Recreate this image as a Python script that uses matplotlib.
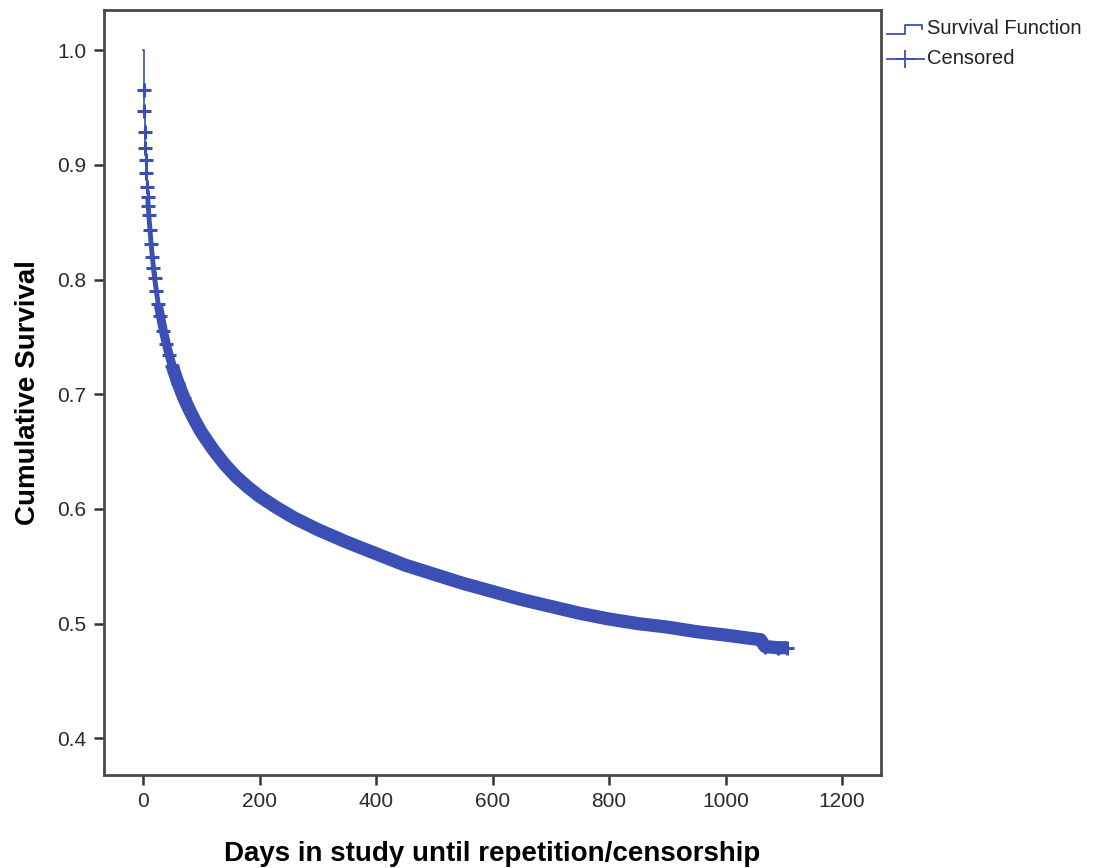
import numpy as np
import matplotlib
matplotlib.use('Agg')
import matplotlib.pyplot as plt
from matplotlib.lines import Line2D

# Kaplan-Meier curve, values
days = [0, 1, 2, 3, 4, 5, 6, 7, 8, 9, 10, 12, 14, 16, 18, 20, 23, 26, 30, 35,
        40, 45, 50, 60, 70, 80, 90, 100, 120, 140, 160, 180, 200, 230, 260,
        300, 350, 400, 450, 500, 550, 600, 650, 700, 750, 800, 850, 900,
        950, 1000, 1030, 1060, 1068, 1090, 1105]
survival = [1.0, 0.965, 0.947, 0.929, 0.915, 0.904, 0.893, 0.881, 0.872,
            0.864, 0.856, 0.843, 0.831, 0.820, 0.810, 0.801, 0.790, 0.779,
            0.768, 0.755, 0.744, 0.734, 0.725, 0.710, 0.697, 0.686, 0.676,
            0.667, 0.652, 0.639, 0.628, 0.619, 0.611, 0.601, 0.592, 0.582,
            0.571, 0.561, 0.551, 0.543, 0.535, 0.528, 0.521, 0.515, 0.509,
            0.504, 0.500, 0.497, 0.493, 0.490, 0.488, 0.486, 0.480, 0.479,
            0.479]

x_ticks = [0, 200, 400, 600, 800, 1000, 1200]
y_ticks = [0.4, 0.5, 0.6, 0.7, 0.8, 0.9, 1.0]

blue = '#3B4FB4'
frame = '#4a4a4a'

plt.rcParams['font.family'] = ['Liberation Sans', 'DejaVu Sans']

d = np.array(days)
s = np.array(survival)
early = d <= 40
marks = ((d >= 1) & (d <= 70)) | (d >= 1060)

fig = plt.figure(figsize=(10.99, 8.68), dpi=100)
ax = fig.add_axes([0.0946, 0.1071, 0.7071, 0.8814])

# the censor marks crowd into a solid band that thickens with time
for lo, hi, w in [(8, 30, 3.5), (26, 60, 6.5), (50, 1105, 9.5)]:
    seg = (d >= lo) & (d <= hi)
    ax.plot(d[seg], s[seg], color=blue, lw=w,
            solid_capstyle='butt', solid_joinstyle='round')
ax.step(d[early], s[early], where='post', color=blue, lw=1.2)
ax.plot(d[marks], s[marks], ls='none', marker='+', ms=9.5, mew=2.2,
        color=blue)

ax.set_xlim(-67, 1267)
ax.set_ylim(0.368, 1.035)
ax.set_xticks(x_ticks)
ax.set_yticks(y_ticks)
ax.set_yticklabels([f'{v:.1f}' for v in y_ticks])

for sp in ax.spines.values():
    sp.set_color(frame)
    sp.set_linewidth(2)
ax.tick_params(direction='out', length=7.5, width=1.8, color='#333333',
               labelsize=15, labelcolor='#2a2a2a', pad=5)

ax.set_xlabel('Days in study until repetition/censorship', fontsize=20,
              fontweight='bold', labelpad=21)
ax.set_ylabel('Cumulative Survival', fontsize=20, fontweight='bold',
              labelpad=12)

# legend drawn outside the frame, in figure pixels
def px(x, y):
    return x / 1099, 1 - y / 868

lx = [887, 905, 905, 922, 922]
ly = [34, 34, 25, 25, 29]
fig.add_artist(Line2D([px(a, b)[0] for a, b in zip(lx, ly)],
                      [px(a, b)[1] for a, b in zip(lx, ly)],
                      color=blue, lw=1.3))
fig.add_artist(Line2D([px(887, 59)[0], px(924, 59)[0]],
                      [px(887, 59)[1], px(924, 59)[1]], color=blue, lw=1.3))
fig.add_artist(Line2D([px(905, 59)[0]], [px(905, 59)[1]], marker='+',
                      ms=13, mew=1.3, color=blue, ls='none'))
fig.text(*px(927, 29), 'Survival Function', fontsize=14.5, va='center',
         color='#222222')
fig.text(*px(927, 59), 'Censored', fontsize=14.5, va='center',
         color='#222222')

fig.savefig('out.png', dpi=100)
